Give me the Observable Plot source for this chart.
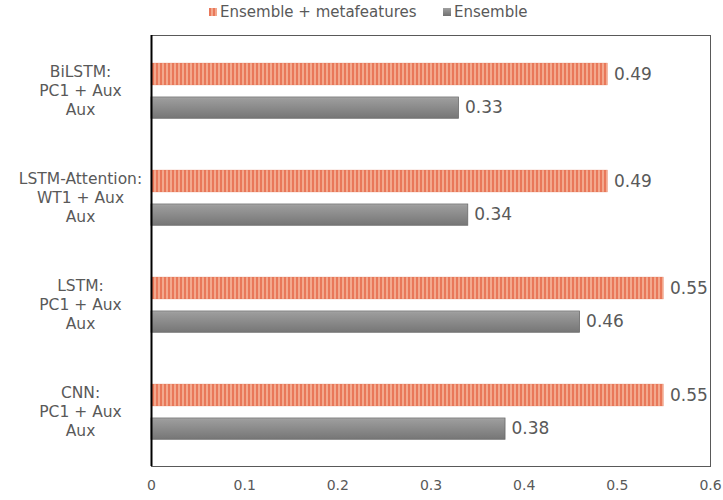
<!DOCTYPE html>
<html>
<head>
<meta charset="utf-8">
<script src="https://cdn.jsdelivr.net/npm/d3@7"></script>
<script src="https://cdn.jsdelivr.net/npm/@observablehq/plot@0.6"></script>
<style>
  html, body { margin: 0; padding: 0; background: #fff; }
  body { width: 723px; height: 500px; overflow: hidden; font-family: "DejaVu Sans", Verdana, sans-serif; }
  #legend { height: 25px; position: relative; font-size: 15px; color: #595959; }
  .item { position: absolute; top: 3px; display: flex; align-items: center; white-space: nowrap; }
  .sw { width: 8px; height: 8px; margin-right: 3px; }
  .xtick, .xtick text { font-size: 14px !important; }
</style>
</head>
<body>
<div id="legend">
  <div class="item" style="left:209px"><span class="sw" style="background:repeating-linear-gradient(90deg,#e9785a 0 2px,#f3a98e 2px 4px)"></span>Ensemble + metafeatures</div>
  <div class="item" style="left:443px"><span class="sw" style="background:linear-gradient(#a0a0a0,#707070)"></span>Ensemble</div>
</div>
<div id="chart"></div>
<script>
const models = ["BiLSTM", "LSTM-Attention", "LSTM", "CNN"];
const modelLabels = ["BiLSTM:\nPC1 + Aux\nAux", "LSTM-Attention:\nWT1 + Aux\nAux", "LSTM:\nPC1 + Aux\nAux", "CNN:\nPC1 + Aux\nAux"];
const metaValues = [0.49, 0.49, 0.55, 0.55];
const ensembleValues = [0.33, 0.34, 0.46, 0.38];
const xTicks = [0, 0.1, 0.2, 0.3, 0.4, 0.5, 0.6];

const meta = models.map((m, i) => ({model: m, value: metaValues[i]}));
const ens = models.map((m, i) => ({model: m, value: ensembleValues[i]}));
const labels = models.map((m, i) => ({model: m, label: modelLabels[i]}));

const textColor = "#595959";
const plot = Plot.plot({
  width: 723,
  height: 475,
  marginLeft: 151,
  marginRight: 13,
  marginTop: 10,
  marginBottom: 34,
  style: {fontFamily: "DejaVu Sans, Verdana, sans-serif", color: textColor, background: "#fff"},
  x: {domain: [0, 0.6], axis: null},
  y: {domain: models, padding: 0, axis: null},
  marks: [
    Plot.barX(meta, {y: "model", x1: 0, x2: "value", fill: "url(#stripes)", stroke: "#e36f52", strokeOpacity: 0.5, strokeWidth: 0.5, insetTop: 26, insetBottom: 59}),
    Plot.barX(ens, {y: "model", x1: 0, x2: "value", fill: "url(#grayGrad)", stroke: "#6a6a6a", strokeWidth: 0.8, insetTop: 60, insetBottom: 25.75}),
    Plot.text(meta, {y: "model", x: "value", text: d => d.value.toFixed(2), dx: 6, dy: -16.4, textAnchor: "start", fontSize: 17, fill: textColor}),
    Plot.text(ens, {y: "model", x: "value", text: d => d.value.toFixed(2), dx: 6, dy: 17, textAnchor: "start", fontSize: 17, fill: textColor}),
    Plot.text(labels, {y: "model", text: "label", frameAnchor: "left", dx: -71, dy: -1, textAnchor: "middle", fontSize: 15.5, lineHeight: 1.2, fill: textColor}),
    Plot.text(xTicks, {x: d => d, text: d => String(d), frameAnchor: "bottom", dy: 23, fontSize: 14, fill: textColor, className: "xtick"}),
    Plot.frame({stroke: "#595959", strokeWidth: 1}),
    Plot.ruleX([0], {stroke: "#000", strokeWidth: 2})
  ]
});
const svg = d3.select(plot);
const defs = svg.insert("defs", ":first-child");
const pat = defs.append("pattern").attr("id", "stripes").attr("patternUnits", "userSpaceOnUse").attr("width", 4).attr("height", 10);
pat.append("rect").attr("width", 4).attr("height", 10).attr("fill", "#f3a98e");
pat.append("rect").attr("width", 2).attr("height", 10).attr("fill", "#e9785a");
const grad = defs.append("linearGradient").attr("id", "grayGrad").attr("x1", 0).attr("y1", 0).attr("x2", 0).attr("y2", 1);
grad.append("stop").attr("offset", "0%").attr("stop-color", "#b4b4b4");
grad.append("stop").attr("offset", "8%").attr("stop-color", "#9c9c9c");
grad.append("stop").attr("offset", "100%").attr("stop-color", "#767676");
document.getElementById("chart").appendChild(plot);
</script>
</body>
</html>
